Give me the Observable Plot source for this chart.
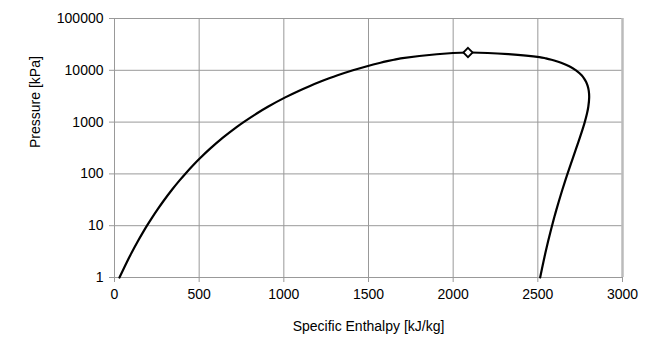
<!DOCTYPE html>
<html>
<head>
<meta charset="utf-8">
<script src="https://cdn.jsdelivr.net/npm/d3@7"></script>
<script src="https://cdn.jsdelivr.net/npm/@observablehq/plot@0.6"></script>
<style>
  html, body { margin: 0; padding: 0; background: #fff; }
  #chart svg { font-family: "Liberation Sans", Arial, sans-serif; }
</style>
</head>
<body>
<div id="chart"></div>
<script>
// Saturated liquid branch (pressure kPa, enthalpy kJ/kg)
const liquidP = [1, 2, 3, 5, 7.5, 10, 15, 20, 30, 50, 75, 100, 150, 200, 300, 500, 800, 1000, 1500, 2000, 3000, 4000, 5000, 6000, 7000, 8000, 10000, 12000, 14000, 15000, 16000, 17000];
const liquidH = [29.3, 73.4, 101.0, 137.8, 168.8, 191.8, 225.9, 251.4, 289.3, 340.5, 384.4, 417.5, 467.1, 504.7, 561.4, 640.1, 720.9, 762.5, 844.6, 908.5, 1008.3, 1087.4, 1154.5, 1213.9, 1267.7, 1317.5, 1408.1, 1491.5, 1571.0, 1610.2, 1649.9, 1690.0];
// Critical point
const criticalP = [22064];
const criticalH = [2087.5];
// Saturated vapour branch (from high to low pressure)
const vaporP = [18000, 17000, 16000, 15000, 14000, 12000, 10000, 8000, 7000, 6000, 5000, 4000, 3000, 2000, 1500, 1000, 800, 500, 300, 200, 150, 100, 75, 50, 30, 20, 15, 10, 7.5, 5, 3, 2, 1];
const vaporH = [2509.5, 2547.5, 2580.8, 2610.7, 2637.1, 2685.4, 2725.5, 2758.7, 2772.6, 2784.6, 2794.2, 2800.8, 2803.2, 2798.3, 2791.0, 2777.1, 2768.3, 2748.1, 2724.9, 2706.3, 2693.1, 2675.0, 2662.4, 2645.2, 2624.6, 2608.9, 2598.3, 2583.9, 2574.0, 2560.7, 2544.8, 2532.9, 2513.7];

const xTicks = [0, 500, 1000, 1500, 2000, 2500, 3000];
const yTicks = [1, 10, 100, 1000, 10000, 100000];

const dome = [
  ...liquidP.map((p, i) => ({h: liquidH[i], p})),
  ...criticalP.map((p, i) => ({h: criticalH[i], p})),
  ...vaporP.map((p, i) => ({h: vaporH[i], p}))
];
const crit = criticalP.map((p, i) => ({h: criticalH[i], p}));

const chart = Plot.plot({
  width: 658,
  height: 355,
  marginLeft: 114,
  marginRight: 36,
  marginTop: 18,
  marginBottom: 78,
  style: {fontSize: "14px", fontFamily: "Liberation Sans, Arial, sans-serif", color: "#000", background: "#fff"},
  x: {domain: [0, 3000], ticks: xTicks, label: null},
  y: {type: "log", domain: [1, 100000], ticks: yTicks, label: null},
  marks: [
    Plot.ruleX(xTicks.slice(1, -1), {stroke: "#999", strokeWidth: 1, strokeOpacity: 1}),
    Plot.ruleY(yTicks.slice(1), {stroke: "#999", strokeWidth: 1, strokeOpacity: 1}),
    Plot.ruleX([3000], {stroke: "#bbb", strokeWidth: 2.5}),
    Plot.ruleX([0], {stroke: "#999", strokeWidth: 1}),
    Plot.ruleY([1], {stroke: "#999", strokeWidth: 1}),
    Plot.axisX({ticks: xTicks, tickSize: 5, tickPadding: 7, stroke: "#999", tickFormat: d => String(d), fontSize: 14, label: null}),
    Plot.axisY({ticks: yTicks, tickSize: 5, tickPadding: 6, stroke: "#999", tickFormat: d => String(d), fontSize: 14, label: null}),
    Plot.line(dome, {x: "h", y: "p", stroke: "#000", strokeWidth: 2.2, curve: "catmull-rom"}),
    Plot.dot(crit, {x: "h", y: "p", symbol: "diamond2", r: 4.2, fill: "#fff", stroke: "#000", strokeWidth: 1.8}),
    Plot.text(["Specific Enthalpy [kJ/kg]"], {frameAnchor: "bottom", dy: 53, fontSize: 14, fill: "#000", letterSpacing: "-0.6px"}),
    Plot.text(["Pressure [kPa]"], {frameAnchor: "left", dx: -79, rotate: -90, fontSize: 14, fill: "#000", letterSpacing: "-0.6px"})
  ]
});
document.getElementById("chart").appendChild(chart);
</script>
</body>
</html>
